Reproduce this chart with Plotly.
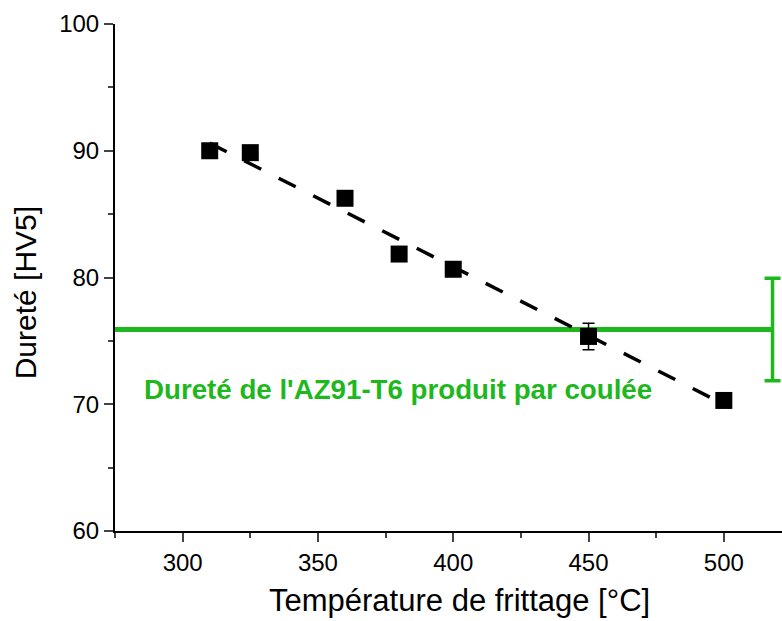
import plotly.graph_objects as go

# Data
temperature = [310, 325, 360, 380, 400, 450, 500]
hardness = [90.0, 89.85, 86.25, 81.85, 80.65, 75.35, 70.3]
hardness_err = [0.5, 0.4, 0.5, 0.5, 0.5, 1.05, 0.5]

fit_x = [310, 500]
fit_y = [90.6, 70.0]

cast_x = [275, 518]
cast_hardness = 75.9
cast_err = 4.05
cast_label = "Dureté de l'AZ91-T6 produit par coulée"

x_title = "Température de frittage [°C]"
y_title = "Dureté [HV5]"
x_ticks = [300, 350, 400, 450, 500]
y_ticks = [60, 70, 80, 90, 100]

GREEN = "#1EB81E"
FONT = "Liberation Sans, Arial, sans-serif"

fig = go.Figure()

# cast reference line
fig.add_trace(go.Scatter(
    x=cast_x, y=[cast_hardness] * len(cast_x), mode="lines",
    line=dict(color=GREEN, width=5), showlegend=False, hoverinfo="skip"))
# cast error bar at the end of the line
fig.add_trace(go.Scatter(
    x=[cast_x[-1]], y=[cast_hardness], mode="markers",
    marker=dict(size=3, color=GREEN),
    error_y=dict(type="data", array=[cast_err], color=GREEN, thickness=3.5, width=8),
    showlegend=False, hoverinfo="skip"))

# linear fit
fig.add_trace(go.Scatter(
    x=fit_x, y=fit_y, mode="lines",
    line=dict(color="black", width=3.5, dash="19px,19.7px"),
    showlegend=False))

# measured points
fig.add_trace(go.Scatter(
    x=temperature, y=hardness, mode="markers",
    marker=dict(symbol="square", size=17, color="black"),
    error_y=dict(type="data", array=hardness_err, color="black", thickness=1.5, width=6),
    showlegend=False))

fig.add_annotation(
    x=284.9, y=71.2, xref="x", yref="y", xanchor="left", yanchor="middle",
    text="<b>" + cast_label + "</b>", showarrow=False,
    font=dict(family=FONT, size=27.7, color=GREEN))

# axis titles
fig.add_annotation(
    x=0.517, y=-0.138, xref="paper", yref="paper", xanchor="center", yanchor="middle",
    text=x_title, showarrow=False, font=dict(family=FONT, size=31, color="black"))
fig.add_annotation(
    x=-0.134, y=0.470, xref="paper", yref="paper", xanchor="center", yanchor="middle",
    text=y_title, textangle=-90, showarrow=False, font=dict(family=FONT, size=30, color="black"))

fig.update_layout(
    width=782, height=621,
    margin=dict(l=115, r=0, t=24, b=90),
    paper_bgcolor="white", plot_bgcolor="white",
    font=dict(family=FONT, color="black"),
    hovermode=False,
    xaxis=dict(
        range=[275, 521.5], tickvals=x_ticks, ticks="outside", ticklen=9, tickwidth=2,
        showline=True, linecolor="black", linewidth=2, showgrid=False, zeroline=False,
        tickfont=dict(size=24, family=FONT), automargin=False,
        minor=dict(dtick=25, tick0=275, ticks="outside", ticklen=5, tickwidth=2, showgrid=False),
    ),
    yaxis=dict(
        range=[60, 100], tickvals=y_ticks, ticks="outside", ticklen=9, tickwidth=2,
        showline=True, linecolor="black", linewidth=2, showgrid=False, zeroline=False,
        tickfont=dict(size=24, family=FONT), automargin=False,
        minor=dict(dtick=5, tick0=60, ticks="outside", ticklen=5, tickwidth=2, showgrid=False),
    ),
)

fig.write_html(
    "out.html",
    config={"displayModeBar": False, "staticPlot": True},
    post_script="document.body.style.margin='0';document.body.style.overflow='hidden';",
)
